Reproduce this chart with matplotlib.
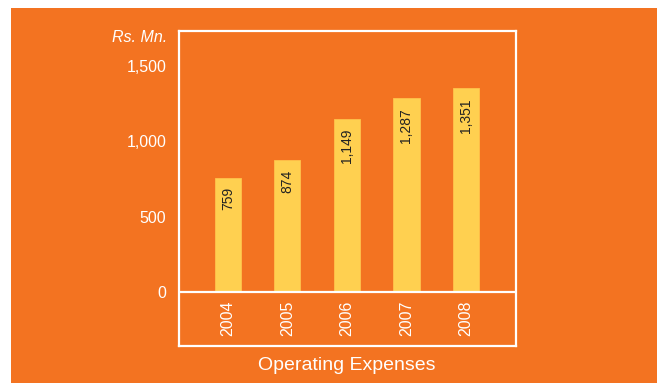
import matplotlib
matplotlib.use('Agg')
import matplotlib.pyplot as plt
from matplotlib.patches import Rectangle

years = ['2004', '2005', '2006', '2007', '2008']
expenses = [759, 874, 1149, 1287, 1351]
yticks = [0, 500, 1000, 1500]
ytick_labels = ['0', '500', '1,000', '1,500']

orange = '#F37321'
yellow = '#FFD050'

plt.rcParams['font.family'] = ['Liberation Sans', 'DejaVu Sans']

fig = plt.figure(figsize=(6.57, 3.83), dpi=100)
fig.patch.set_facecolor('white')
fig.patches.append(Rectangle((11 / 657, 0), 1, 1 - 8 / 383, transform=fig.transFigure,
                             facecolor=orange, edgecolor='none', zorder=-5))

ax = fig.add_axes([179 / 657, 37 / 383, 337 / 657, 315 / 383])
ax.set_facecolor('none')

x = range(len(years))
bars = ax.bar(x, expenses, width=0.44, color=yellow, edgecolor='#FFC24A', linewidth=0.6, zorder=2)

for i, v in enumerate(expenses):
    ax.annotate(f'{v:,}', (i, v), xytext=(0, -7), textcoords='offset points',
                rotation=90, ha='center', va='top', fontsize=10, color='#222222')
    ax.text(i, -172, years[i], rotation=90, ha='center', va='center',
            fontsize=11.5, color='white')

ax.axhline(0, color='white', lw=1.6, zorder=3)

ax.set_xlim(-0.82, 4.84)
ax.set_ylim(-358, 1732)
ax.set_xticks([])
ax.set_yticks(yticks)
ax.set_yticklabels(ytick_labels)
ax.tick_params(axis='y', length=0, pad=9, labelcolor='white', labelsize=11.5)
for s in ax.spines.values():
    s.set_color('white')
    s.set_linewidth(1.6)

fig.text(167 / 657, 1 - 38 / 383, 'Rs. Mn.', ha='right', va='center',
         fontsize=11.5, style='italic', color='white')
fig.text(347 / 657, 1 - 366 / 383, 'Operating Expenses', ha='center', va='center',
         fontsize=14, color='white')

fig.savefig('out.png', dpi=100, facecolor=fig.get_facecolor())
